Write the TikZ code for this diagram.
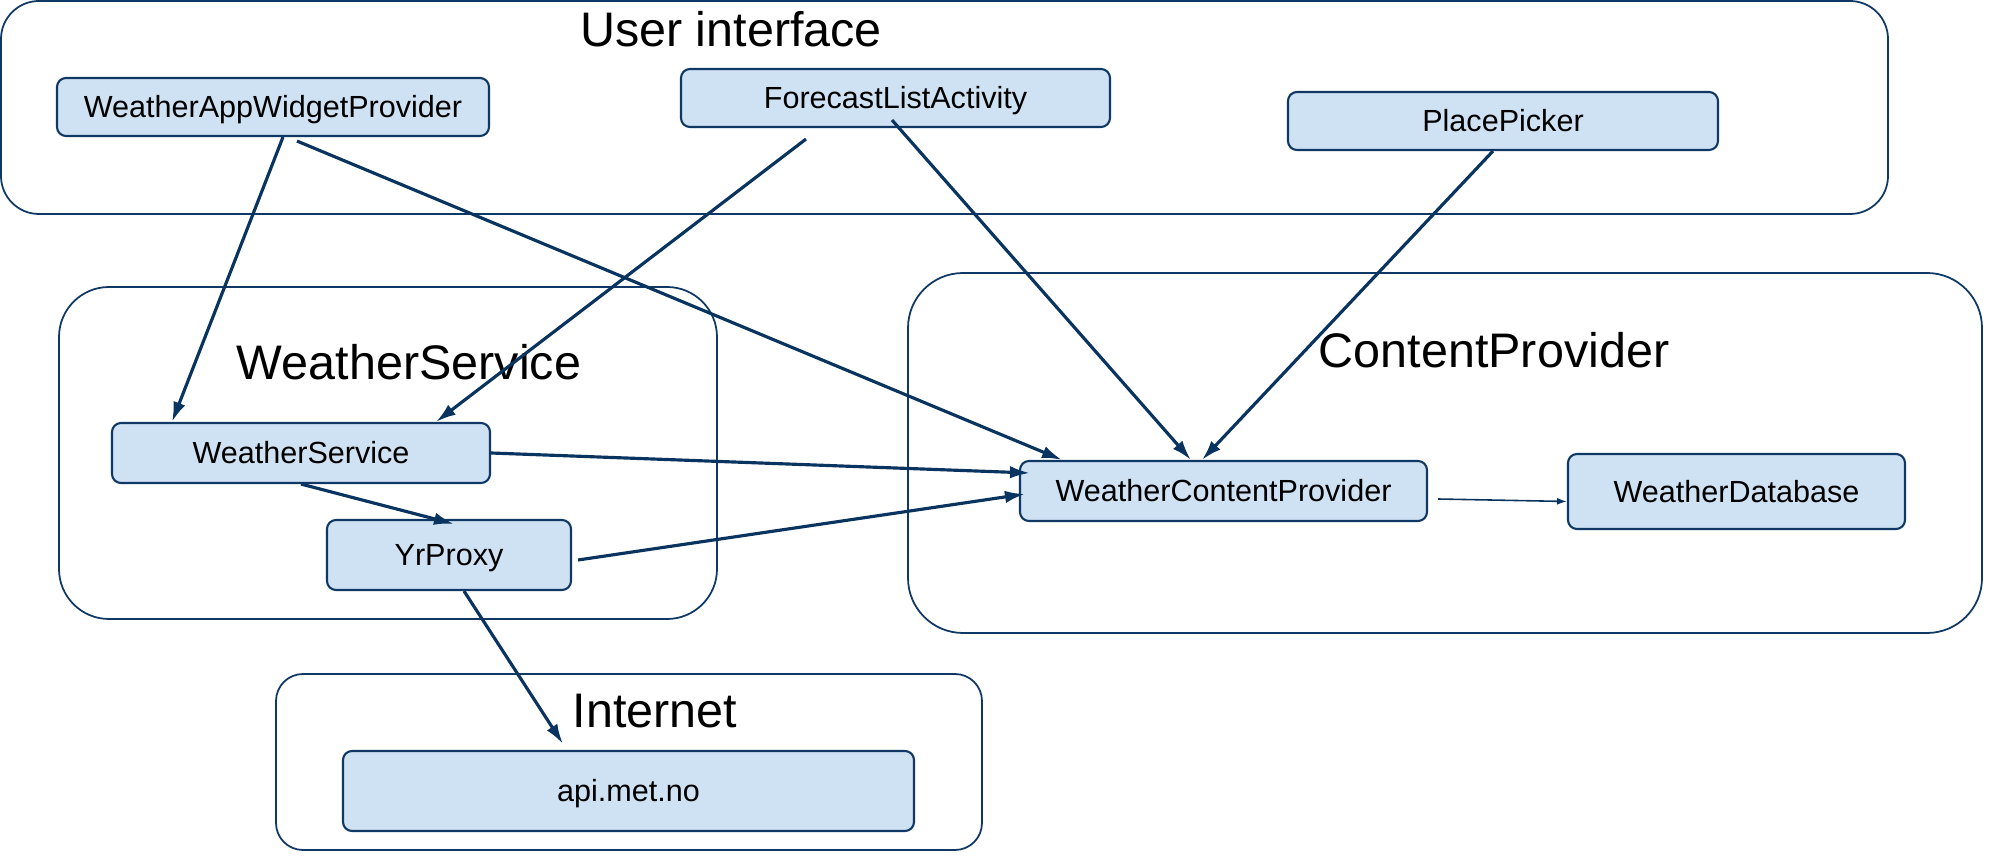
\documentclass[tikz,border=0pt]{standalone}
\usepackage{fontspec}
\setmainfont{Liberation Sans}
\usepackage{xcolor}
\usepackage{tikz}
\usetikzlibrary{arrows.meta}

\definecolor{boxfill}{RGB}{207,226,243}
\definecolor{boxline}{RGB}{16,56,100}
\definecolor{flowline}{RGB}{10,52,96}

\tikzset{
    group/.style={draw=boxline, line width=0.5pt},
    comp/.style={draw=boxline, fill=boxfill, line width=0.6pt, rounded corners=0.09cm,
        inner sep=0pt, text height=0.218cm, text depth=0pt, font=\fontsize{8.7}{10}\selectfont},
    grouptitle/.style={anchor=base, inner sep=0pt, font=\fontsize{13.8}{16}\selectfont},
    flow/.style={draw=flowline, line width=0.9pt, -{Latex[length=2mm,width=1.25mm]}},
    thinflow/.style={draw=flowline, line width=0.45pt, -{Latex[length=1mm,width=0.7mm]}}
}

\begin{document}
\begin{tikzpicture}
                \useasboundingbox (0,0) rectangle (20,-8.64);
                \draw [group, rounded corners=0.38cm] (0.01,-0.01) rectangle (18.88,-2.14);
                \draw [group, rounded corners=0.5cm] (0.59,-2.87) rectangle (7.17,-6.19);
                \draw [group, rounded corners=0.55cm] (9.08,-2.73) rectangle (19.82,-6.33);
                \draw [group, rounded corners=0.27cm] (2.76,-6.74) rectangle (9.82,-8.50);
                \node [grouptitle] (uititle) at (7.31,-0.47) {User interface};
                \node [grouptitle] (wstitle) at (4.09,-3.80) {WeatherService};
                \node [grouptitle] (cptitle) at (14.94,-3.68) {ContentProvider};
                \node [grouptitle] (nettitle) at (6.55,-7.28) {Internet};
                \node [comp, minimum width=4.32cm, minimum height=0.58cm] (wawp) at (2.73,-1.07) {WeatherAppWidgetProvider};
                \node [comp, minimum width=4.29cm, minimum height=0.58cm] (fla) at (8.955,-0.98) {ForecastListActivity};
                \node [comp, minimum width=4.30cm, minimum height=0.58cm] (pp) at (15.03,-1.21) {PlacePicker};
                \node [comp, minimum width=3.78cm, minimum height=0.60cm] (ws) at (3.01,-4.53) {WeatherService};
                \node [comp, minimum width=2.44cm, minimum height=0.70cm] (yr) at (4.49,-5.55) {YrProxy};
                \node [comp, minimum width=4.07cm, minimum height=0.60cm] (wcp) at (12.235,-4.91) {WeatherContentProvider};
                \node [comp, minimum width=3.37cm, minimum height=0.75cm] (wdb) at (17.365,-4.915) {WeatherDatabase};
                \node [comp, minimum width=5.71cm, minimum height=0.80cm] (api) at (6.285,-7.91) {api.met.no};
                \draw [flow] ([xshift=0.1cm]wawp.south) -- ([xshift=-1.29cm]ws.north);
                \draw [flow] ([xshift=0.24cm,yshift=-0.04cm]wawp.south) -- ([xshift=-1.615cm]wcp.north);
                \draw [flow] ([xshift=-0.895cm,yshift=-0.11cm]fla.south) -- ([xshift=1.35cm]ws.north);
                \draw [flow] ([xshift=-0.035cm,yshift=0.08cm]fla.south) -- ([xshift=-0.325cm]wcp.north);
                \draw [flow] ([xshift=-0.1cm]pp.south) -- ([xshift=-0.215cm]wcp.north);
                \draw [flow] (ws.east) -- ([xshift=0.11cm,yshift=0.18cm]wcp.west);
                \draw [flow] (ws.south) -- ([xshift=0.05cm,yshift=-0.05cm]yr.north);
                \draw [flow] ([xshift=0.06cm,yshift=-0.05cm]yr.east) -- ([xshift=0.06cm,yshift=-0.03cm]wcp.west);
                \draw [flow] ([xshift=0.15cm]yr.south) -- ([xshift=-0.655cm,yshift=0.06cm]api.north);
                \draw [thinflow] ([xshift=0.1cm,yshift=-0.08cm]wcp.east) -- ([yshift=-0.1cm]wdb.west);
\end{tikzpicture}
\end{document}
